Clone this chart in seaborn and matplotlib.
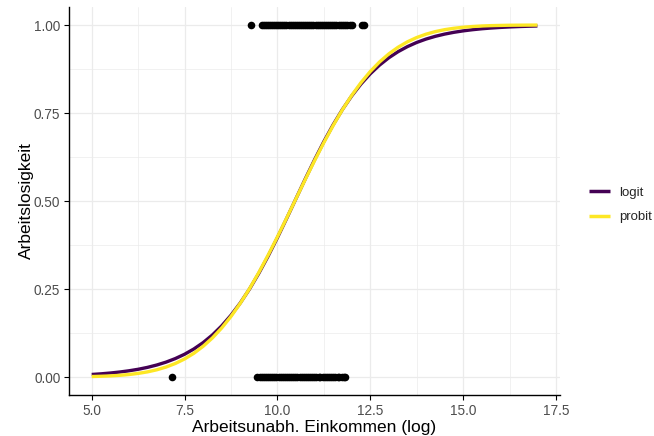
import matplotlib
matplotlib.use("Agg")
import matplotlib.pyplot as plt
import pandas as pd
import seaborn as sns
from matplotlib.ticker import MultipleLocator

# ---- data ----
x_grid = [5.0, 5.25, 5.5, 5.75, 6.0, 6.25, 6.5, 6.75, 7.0, 7.25, 7.5, 7.75,
          8.0, 8.25, 8.5, 8.75, 9.0, 9.25, 9.5, 9.75, 10.0, 10.25, 10.5, 10.75,
          11.0, 11.25, 11.5, 11.75, 12.0, 12.25, 12.5, 12.75, 13.0, 13.25, 13.5,
          13.75, 14.0, 14.25, 14.5, 14.75, 15.0, 15.25, 15.5, 15.75, 16.0, 16.25,
          16.5, 16.75, 17.0]
logit_p = [0.0072, 0.0090, 0.0113, 0.0141, 0.0176, 0.0219, 0.0273, 0.0340,
           0.0422, 0.0523, 0.0646, 0.0796, 0.0977, 0.1194, 0.1452, 0.1754,
           0.2103, 0.2501, 0.2947, 0.3434, 0.3958, 0.4507, 0.5067, 0.5627,
           0.6170, 0.6686, 0.7165, 0.7599, 0.7985, 0.8323, 0.8614, 0.8861,
           0.9070, 0.9243, 0.9386, 0.9504, 0.9600, 0.9678, 0.9741, 0.9792,
           0.9833, 0.9866, 0.9893, 0.9914, 0.9931, 0.9945, 0.9956, 0.9965, 0.9972]
probit_p = [0.0013, 0.0021, 0.0031, 0.0047, 0.0070, 0.0102, 0.0145, 0.0204,
            0.0282, 0.0383, 0.0512, 0.0673, 0.0872, 0.1110, 0.1393, 0.1721,
            0.2094, 0.2511, 0.2969, 0.3461, 0.3980, 0.4518, 0.5066, 0.5612,
            0.6147, 0.6660, 0.7145, 0.7593, 0.7999, 0.8362, 0.8679, 0.8951,
            0.9180, 0.9369, 0.9522, 0.9644, 0.9739, 0.9812, 0.9867, 0.9907,
            0.9936, 0.9957, 0.9972, 0.9982, 0.9988, 0.9993, 0.9995, 0.9997, 0.9998]

ones_x = [9.29, 9.58, 9.63, 9.70, 9.74, 9.80, 9.86, 9.91, 9.97, 10.02, 10.08,
          10.13, 10.19, 10.24, 10.30, 10.36, 10.41, 10.47, 10.52, 10.58, 10.63,
          10.69, 10.75, 10.80, 10.86, 10.91, 10.97, 11.03, 11.08, 11.14, 11.19,
          11.25, 11.31, 11.36, 11.42, 11.48, 11.53, 11.59, 11.65, 11.70, 11.76,
          11.82, 11.88, 11.95, 12.00, 12.27, 12.33]
zeros_x = [7.17, 9.46, 9.52, 9.58, 9.63, 9.69, 9.75, 9.80, 9.86, 9.92, 9.97,
           10.03, 10.09, 10.14, 10.20, 10.26, 10.31, 10.37, 10.43, 10.48, 10.54,
           10.60, 10.65, 10.71, 10.77, 10.82, 10.88, 10.94, 10.99, 11.05, 11.11,
           11.16, 11.22, 11.28, 11.33, 11.39, 11.45, 11.50, 11.56, 11.62, 11.67,
           11.73, 11.78, 11.81]

model_names = ["logit", "probit"]
colors = ["#440154", "#FDE725"]
x_ticks = [5.0, 7.5, 10.0, 12.5, 15.0, 17.5]
y_ticks = [0.00, 0.25, 0.50, 0.75, 1.00]

# ---- tables ----
curves = pd.DataFrame({
    "x": x_grid + x_grid,
    "p": logit_p + probit_p,
    "model": [model_names[0]] * len(x_grid) + [model_names[1]] * len(x_grid),
})
points = pd.DataFrame({
    "x": ones_x + zeros_x,
    "y": [1.0] * len(ones_x) + [0.0] * len(zeros_x),
})

# ---- figure ----
sns.set_theme(style="white")
plt.rcParams["font.family"] = ["Liberation Sans", "DejaVu Sans"]

fig = plt.figure(figsize=(6.54, 4.36), dpi=100)
ax = fig.add_axes([69.4 / 654, 1 - 394.6 / 436, (559.7 - 69.4) / 654, (394.6 - 7.4) / 436])

sns.scatterplot(data=points, x="x", y="y", ax=ax, color="black", s=30,
                linewidth=0, legend=False, zorder=3)
sns.lineplot(data=curves, x="x", y="p", hue="model", palette=colors,
             hue_order=model_names, ax=ax, linewidth=2.4, zorder=4,
             legend=True)
for ln in ax.get_lines():
    ln.set_solid_joinstyle("round")
    ln.set_solid_capstyle("butt")

ax.set_xlim(4.4, 17.6)
ax.set_ylim(-0.05, 1.05)
ax.set_xticks(x_ticks)
ax.set_xticklabels([f"{v:.1f}" for v in x_ticks])
ax.set_yticks(y_ticks)
ax.set_yticklabels([f"{v:.2f}" for v in y_ticks])
ax.xaxis.set_minor_locator(MultipleLocator(1.25))
ax.yaxis.set_minor_locator(MultipleLocator(0.125))

ax.grid(True, which="major", color="#EBEBEB", linewidth=0.9, zorder=0)
ax.grid(True, which="minor", color="#EBEBEB", linewidth=0.5, zorder=0)
ax.set_axisbelow(True)

for side in ["top", "right"]:
    ax.spines[side].set_visible(False)
for side in ["left", "bottom"]:
    ax.spines[side].set_color("black")
    ax.spines[side].set_linewidth(1.0)

ax.tick_params(axis="both", which="major", length=3.5, width=0.8, color="black",
               labelcolor="#4D4D4D", labelsize=9.8, pad=3, bottom=True, left=True)
ax.tick_params(axis="both", which="minor", length=0)

ax.set_xlabel("Arbeitsunabh. Einkommen (log)", fontsize=12.5, color="black", labelpad=2)
ax.set_ylabel("Arbeitslosigkeit", fontsize=12.5, color="black", labelpad=0)

handles, labels = ax.get_legend_handles_labels()
ax.get_legend().remove()
for h in handles:
    h.set_linewidth(2.5)
fig.legend(handles, labels, loc="center left",
           bbox_to_anchor=(577 / 654, 1 - 205 / 436), frameon=False,
           fontsize=9.5, handlelength=1.6, handletextpad=0.7,
           labelspacing=0.9, borderpad=0.4)

fig.savefig("out.png", dpi=100)
